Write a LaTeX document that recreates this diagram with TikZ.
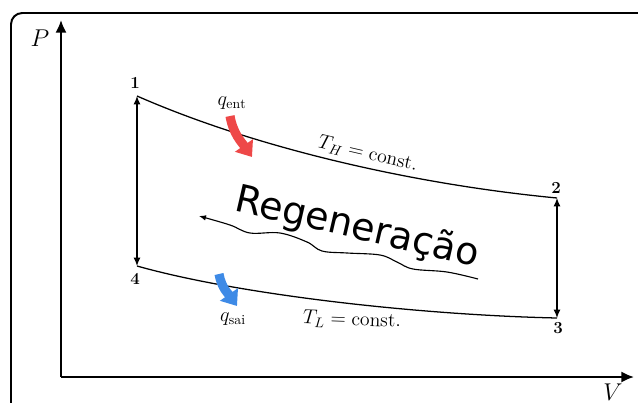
\documentclass[tikz,border=0pt]{standalone}
\usepackage{fontspec}
\newfontfamily\regfont{DejaVu Sans}
\usetikzlibrary{arrows.meta}
\definecolor{heatred}{RGB}{238,72,72}
\definecolor{heatblue}{RGB}{62,138,230}

\begin{document}
\begin{tikzpicture}[x=0.025cm,y=-0.025cm,>=Latex,
  axis/.style={line width=1.6pt,-{Latex[length=9pt,width=8pt]}},
  proc/.style={line width=0.9pt},
  ends/.style={{Latex[length=6pt,width=5pt]}-{Latex[length=6pt,width=5pt]}},
  ptlabel/.style={font=\bfseries\fontsize{12}{14}\selectfont},
  heat/.style={line width=6.5pt,-{Triangle[length=10pt,width=15pt]}},
  lbl/.style={font=\fontsize{14}{17}\selectfont}]
  \useasboundingbox (0,0) rectangle (638,402);
  \clip (0,0) rectangle (638,402);
  % frame
  \draw[line width=1.4pt,rounded corners=8pt] (11,13) rectangle (700,460);
  % axes
  \coordinate (O) at (61,377);
  \coordinate (Ptop) at (61,20);
  \coordinate (Vend) at (634,377);
  \draw[axis] (O) -- (Ptop);
  \draw[axis] (O) -- (Vend);
  \node[font=\fontsize{16}{19}\selectfont] (Plabel) at (40,38) {$P$};
  \node[font=\fontsize{16}{19}\selectfont] (Vlabel) at (613,392) {$V$};
  % states
  \coordinate (p1) at (137,96);
  \coordinate (p2) at (557,198);
  \coordinate (p3) at (557,318);
  \coordinate (p4) at (137,266);
  \node[ptlabel] (n1) at (135,83) {1};
  \node[ptlabel] (n2) at (556,188) {2};
  \node[ptlabel] (n3) at (558,328) {3};
  \node[ptlabel] (n4) at (135,279) {4};
  % processes
  \draw[proc] (p1) .. controls (260,150) and (420,185) .. (p2);
  \draw[proc] (p4) .. controls (240,295) and (420,315) .. (p3);
  \draw[proc,ends] (p1) -- (p4);
  \draw[proc,ends] (p2) -- (p3);
  \node[lbl,rotate=-13] (TH) at (368,154) {$T_H = \mathrm{const.}$};
  \node[lbl,rotate=-2] (TL) at (352,320) {$T_L = \mathrm{const.}$};
  % heat in / out
  \coordinate (qinS) at (230,116);
  \coordinate (qinE) at (252,157);
  \coordinate (qoutS) at (219,274);
  \coordinate (qoutE) at (237,306);
  \draw[heat,heatred] (qinS) to[out=-80,in=125] (qinE);
  \draw[heat,heatblue] (qoutS) to[out=-80,in=125] (qoutE);
  \node[lbl] (qin) at (232,103) {$q_{\mathrm{ent}}$};
  \node[lbl] (qout) at (233,319) {$q_{\mathrm{sai}}$};
  % regeneration
  \node[font=\regfont\fontsize{27}{32}\selectfont,rotate=-13] (regen) at (357,228) {Regeneração};
  \coordinate (regS) at (478,279);
  \coordinate (regE) at (199,216);
  \draw[line width=0.8pt,-{Latex[length=5pt,width=4pt]}] plot[smooth,tension=0.6] coordinates {(regS) (447,272) (413,269) (397,262) (380,255) (347,253) (322,251) (307,242) (280,233) (250,233) (230,225) (regE)};
\end{tikzpicture}
\end{document}
